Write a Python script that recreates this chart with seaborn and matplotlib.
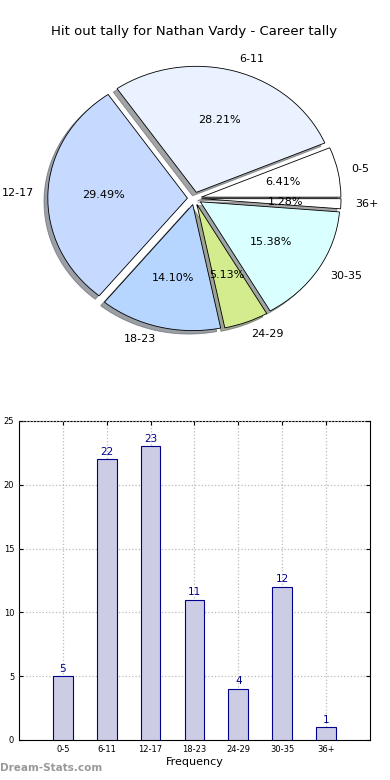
import pandas as pd
import seaborn as sns
import matplotlib
matplotlib.use('Agg')
import matplotlib.pyplot as plt

# data
bins = ['0-5', '6-11', '12-17', '18-23', '24-29', '30-35', '36+']
counts = [5, 22, 23, 11, 4, 12, 1]
pie_colors = ['#FFFFFF', '#EAF1FF', '#C6D9FF', '#B7D6FF', '#D3EC8D', '#DAFFFF', '#FFFFFF']

df = pd.DataFrame({'bin': bins, 'count': counts})

sns.set_style('white')
plt.rcParams['font.family'] = ['DejaVu Sans']
plt.rcParams['text.color'] = 'black'
plt.rcParams['axes.labelcolor'] = 'black'
plt.rcParams['xtick.color'] = 'black'
plt.rcParams['ytick.color'] = 'black'

fig = plt.figure(figsize=(3.9, 7.8), dpi=100)

# pie
ax1 = fig.add_axes([0.051, 0.5436, 0.895, 0.404])
ax1.pie(df['count'], labels=df['bin'], colors=pie_colors, explode=[0.05] * len(bins),
        autopct='%1.2f%%', shadow=True, startangle=0, counterclock=True,
        wedgeprops={'edgecolor': 'black', 'linewidth': 0.6},
        textprops={'fontsize': 8, 'color': 'black'})
ax1.set_aspect('auto')
ax1.set_xlim(-1.25, 1.25)
ax1.set_ylim(-1.25, 1.25)
ax1.set_title('Hit out tally for Nathan Vardy - Career tally', fontsize=9.5, pad=4)

# bars
ax2 = fig.add_axes([0.0487, 0.0513, 0.9, 0.409])
sns.barplot(data=df, x='bin', y='count', ax=ax2, color='#CCCCE5', saturation=1,
            width=0.45, edgecolor='#00008B', linewidth=0.8, zorder=3)
for i, v in enumerate(counts):
    ax2.text(i, v + 0.2, str(v), ha='center', va='bottom', color='#00008B', fontsize=7.5)
ax2.set_xlim(-1, 7)
ax2.set_ylim(0, 25)
ax2.set_yticks([0, 5, 10, 15, 20, 25])
ax2.grid(True, linestyle=':', color='#BBBBBB', linewidth=0.9)
ax2.set_axisbelow(False)
for s in ax2.spines.values():
    s.set_color('black')
    s.set_linewidth(0.8)
ax2.tick_params(axis='both', labelsize=6, direction='in', length=3,
                top=True, right=True, bottom=True, left=True)
ax2.set_xlabel('Frequency', fontsize=8, labelpad=2)
ax2.set_ylabel('Total Hit Outs', fontsize=8)
ax2.yaxis.set_label_coords(-0.045, 0.5)

fig.text(0.0, 0.012, 'Dream-Stats.com', color='#999999', fontsize=7.5, fontweight='bold')

fig.savefig('out.png', dpi=100)
